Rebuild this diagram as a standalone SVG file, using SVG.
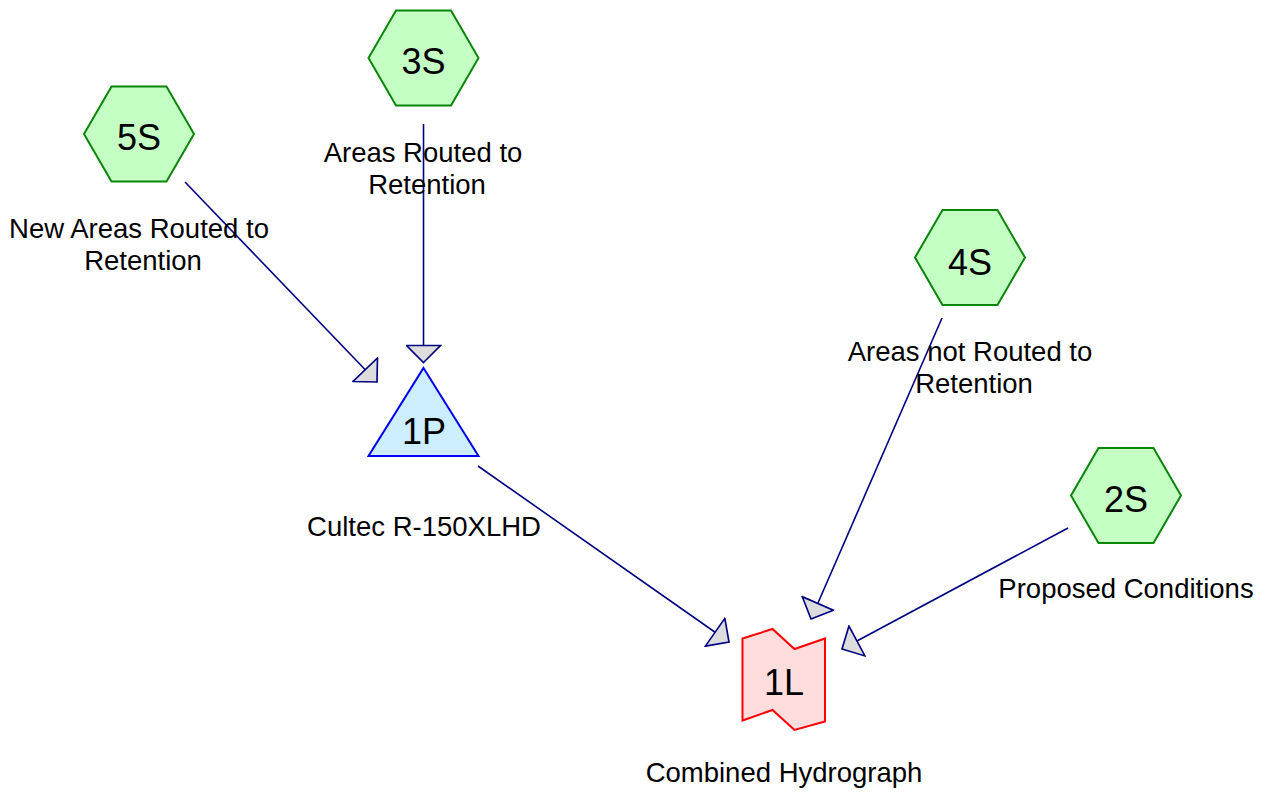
<svg xmlns="http://www.w3.org/2000/svg" width="1268" height="792" viewBox="0 0 1268 792">
<style>
.hex{fill:#c4ffc4;stroke:#0a860a;stroke-width:2}
.pond{fill:#cdeeff;stroke:#0000ee;stroke-width:2}
.link{fill:#ffdddd;stroke:#ff0000;stroke-width:2}
.nid{font-family:"Liberation Sans",Arial,sans-serif;font-size:36px;fill:#000;text-anchor:middle}
.lbl{font-family:"Liberation Sans",Arial,sans-serif;font-size:27.5px;fill:#000;text-anchor:middle}
.edge{stroke:#000080;stroke-width:1.6;fill:none;marker-end:url(#ah)}
</style>
<defs>
<marker id="ah" markerUnits="userSpaceOnUse" markerWidth="20" markerHeight="36" viewBox="-1 -17.5 19 35" refX="16.5" refY="0" orient="auto">
<path d="M16.5,0 L0,-16.5 L0,16.5 Z" fill="#dddddd" stroke="#000080" stroke-width="1.6" stroke-linejoin="miter"/>
</marker>
</defs>
<g id="connectors">
<line class="edge" x1="423.5" y1="124" x2="423.5" y2="362.5"/>
<line class="edge" x1="185" y1="182" x2="377" y2="382"/>
<line class="edge" x1="478" y1="466" x2="729" y2="642"/>
<line class="edge" x1="942" y1="318" x2="811" y2="619"/>
<line class="edge" x1="1068" y1="528" x2="842" y2="649"/>
</g>
<g id="node-3S">
<polygon class="hex" points="368.5,58 396,10.5 451,10.5 478.5,58 451,105.5 396,105.5"/>
<text class="nid" x="423.5" y="74">3S</text>
<text class="lbl" x="423" y="161.5">Areas Routed to</text>
<text class="lbl" x="427" y="193.5">Retention</text>
</g>
<g id="node-5S">
<polygon class="hex" points="84,134 111.5,86.5 166.5,86.5 194,134 166.5,181.5 111.5,181.5"/>
<text class="nid" x="139" y="150">5S</text>
<text class="lbl" x="139" y="238">New Areas Routed to</text>
<text class="lbl" x="143" y="270">Retention</text>
</g>
<g id="node-4S">
<polygon class="hex" points="915,257.5 942.5,210 997.5,210 1025,257.5 997.5,305 942.5,305"/>
<text class="nid" x="970" y="275">4S</text>
<text class="lbl" x="970" y="361">Areas not Routed to</text>
<text class="lbl" x="974" y="393">Retention</text>
</g>
<g id="node-2S">
<polygon class="hex" points="1071,495.5 1098.5,448 1153.5,448 1181,495.5 1153.5,543 1098.5,543"/>
<text class="nid" x="1126" y="512">2S</text>
<text class="lbl" x="1126" y="598">Proposed Conditions</text>
</g>
<g id="node-1P">
<polygon class="pond" points="423.5,368 478.5,456 368.5,456"/>
<text class="nid" x="424" y="443.5">1P</text>
<text class="lbl" x="424" y="536">Cultec R-150XLHD</text>
</g>
<g id="node-1L">
<polygon class="link" points="742.5,638.5 772.5,629 794.5,649 825,638.5 825,721.5 794.5,730 772.5,710 742.5,720.5"/>
<text class="nid" x="784" y="695">1L</text>
<text class="lbl" x="784" y="781.5">Combined Hydrograph</text>
</g>
</svg>
